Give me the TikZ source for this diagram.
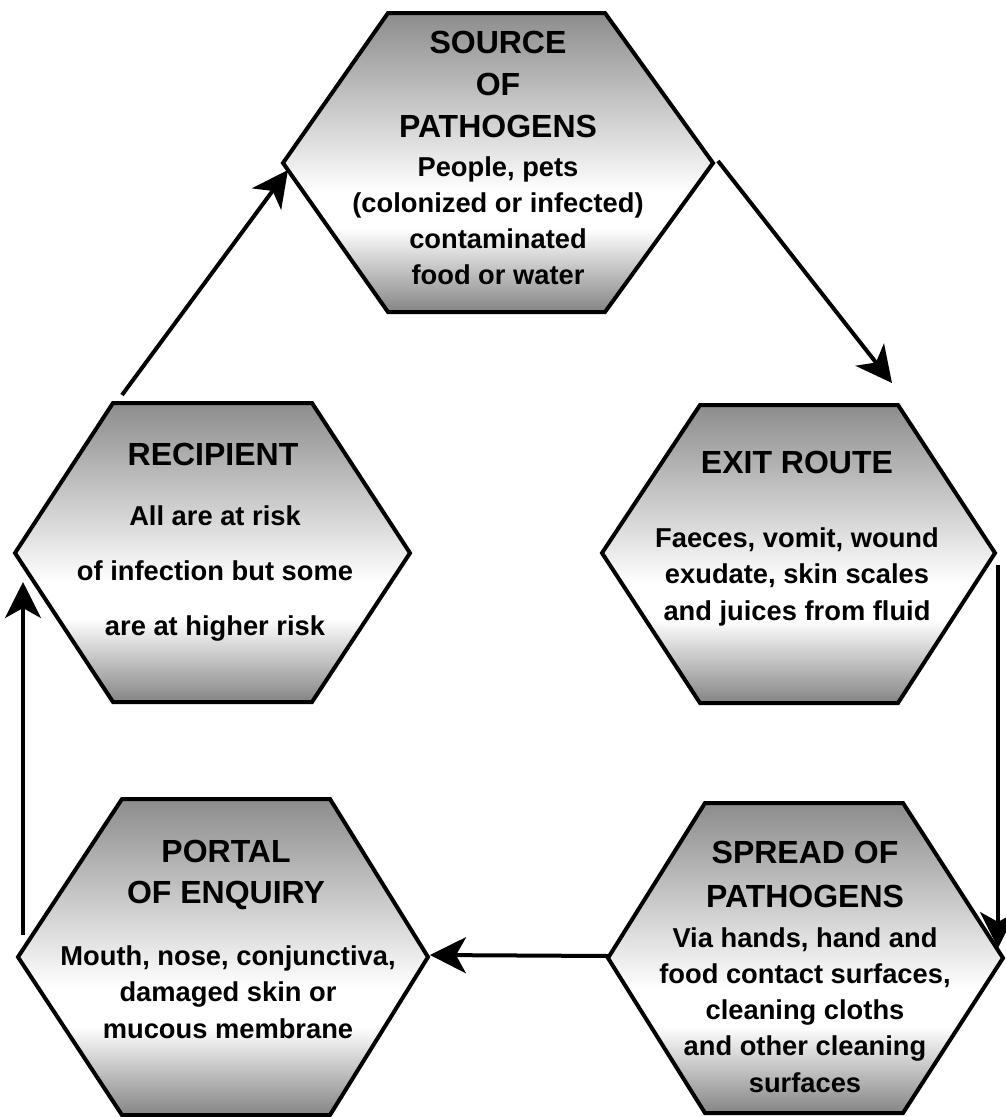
\documentclass[tikz,border=0pt]{standalone}
\usepackage{fontspec}
\setmainfont{Liberation Sans}
\usetikzlibrary{arrows.meta,calc}
\definecolor{shb}{gray}{0.52}
\definecolor{sht}{gray}{0.55}
\pgfdeclareverticalshading{hexshade}{100bp}{color(0bp)=(shb); color(25bp)=(shb); color(39bp)=(white); color(45bp)=(white); color(75bp)=(sht); color(100bp)=(sht)}
\newcommand\hexagon[8]{%
  \path[hexa] (#2,#7) coordinate (#1-l) -- (#3,#6) coordinate (#1-tl) -- (#4,#6) coordinate (#1-tr)
    -- (#5,#7) coordinate (#1-r) -- (#4,#8) coordinate (#1-br) -- (#3,#8) coordinate (#1-bl) -- cycle;}
\begin{document}
\begin{tikzpicture}[x=1pt,y=-1pt,
  hexa/.style={draw=black, line width=4pt, shade, shading=hexshade},
  title/.style={font=\bfseries\fontsize{32}{32}\selectfont, anchor=base, inner sep=0pt},
  body/.style={font=\bfseries\fontsize{27.3}{27.3}\selectfont, anchor=base, inner sep=0pt},
  conn/.style={line width=4pt, -{Stealth[length=36pt,width=36pt,inset=10pt]}}]
\useasboundingbox (0,0) rectangle (1005,1117);
\hexagon{src}{283}{388}{605}{713}{13}{163}{312}
\hexagon{exit}{602}{700}{898}{995}{405}{553}{703}
\hexagon{spr}{608}{705}{903}{1003}{803}{958}{1113}
\hexagon{por}{18}{122}{330}{428}{799}{957}{1115}
\hexagon{rec}{15}{113}{312}{410}{403}{553}{702}
% Source
\foreach \t [count=\i] in {SOURCE,OF,PATHOGENS}
  \node[title] (src-t\i) at (498,{53+42*(\i-1)}) {\t};
\foreach \t [count=\i] in {{People, pets},{(colonized or infected)},{contaminated},{food or water}}
  \node[body] (src-b\i) at (498,{176+36.3*(\i-1)}) {\t};
% Exit
\node[title] (exit-t1) at (797,473) {EXIT ROUTE};
\foreach \t [count=\i] in {{Faeces, vomit, wound},{exudate, skin scales},{and juices from fluid}}
  \node[body] (exit-b\i) at (797,{547+36.5*(\i-1)}) {\t};
% Spread
\foreach \t [count=\i] in {SPREAD OF,PATHOGENS}
  \node[title] (spr-t\i) at (805,{863+44*(\i-1)}) {\t};
\foreach \t [count=\i] in {{Via hands, hand and},{food contact surfaces,},{cleaning cloths},{and other cleaning},{surfaces}}
  \node[body] (spr-b\i) at (805,{947+36.25*(\i-1)}) {\t};
% Portal
\foreach \t [count=\i] in {PORTAL,OF ENQUIRY}
  \node[title] (por-t\i) at (226,{862+41*(\i-1)}) {\t};
\foreach \t [count=\i] in {{Mouth, nose, conjunctiva,},{damaged skin or},{mucous membrane}}
  \node[body] (por-b\i) at (228,{965+36.5*(\i-1)}) {\t};
% Recipient
\node[title] (rec-t1) at (213,465) {RECIPIENT};
\foreach \t [count=\i] in {{All are at risk},{of infection but some},{are at higher risk}}
  \node[body] (rec-b\i) at (215,{525+55*(\i-1)}) {\t};
% connectors
\draw[conn] ($(rec-tl)+(9,-8)$) -- ($(src-l)+(5,7)$);
\draw[conn] ($(src-r)+(5,-2)$) -- ($(exit-tr)+(-6,-22)$);
\draw[conn] ($(exit-r)+(3,12)$) -- ($(spr-r)+(-5,-10)$);
\draw[conn] ($(spr-l)+(0,-2)$) -- ($(por-r)+(2,-2)$);
\draw[conn] ($(por-l)+(5,-22)$) -- ($(rec-l)+(8,29)$);
\end{tikzpicture}
\end{document}
